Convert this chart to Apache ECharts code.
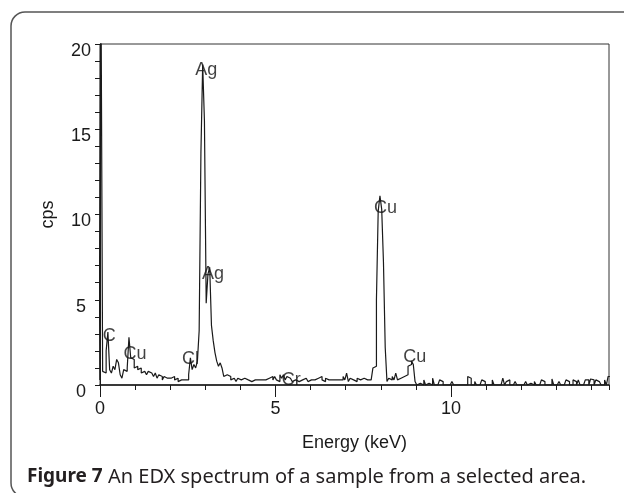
<!DOCTYPE html>
<html>
<head>
<meta charset="utf-8">
<script src="https://cdn.jsdelivr.net/npm/echarts@6/dist/echarts.min.js"></script>
<style>
  html, body { margin: 0; padding: 0; background: #fff; }
  #chart { width: 624px; height: 493px; }
</style>
</head>
<body>
<div id="chart"></div>
<script>
//-----------------------------------------------------------------------------------------
// data (0.05 keV channels, counts per second)
//-----------------------------------------------------------------------------------------
var binStart = 0;
var binWidth = 0.05;
var cps = [
  // 0.00 - 0.95
  0.3, 25, 0.8, 0.7, 2.0, 3.1, 0.9, 0.7, 1.1, 0.9,
  1.5, 1.3, 0.6, 0.4, 0.9, 0.8, 1.0, 2.8, 1.6, 1.5,
  // 1.00 - 1.95
  1.0, 1.1, 0.9, 1.0, 0.7, 0.8, 0.9, 0.6, 0.8, 0.7,
  0.8, 0.5, 0.7, 0.4, 0.6, 0.5, 0.3, 0.5, 0.4, 0.3,
  // 2.00 - 2.95
  0.4, 0.3, 0.5, 0.3, 0.4, 0.2, 0.3, 0.4, 0.3, 0.2,
  0.3, 0.6, 1.6, 0.9, 1.2, 1.0, 1.4, 3.2, 13.6, 18.8,
  // 3.00 - 3.95
  15.5, 4.8, 6.5, 6.9, 3.5, 2.6, 1.9, 1.4, 1.1, 1.3,
  1.0, 0.5, 0.6, 0.6, 0.5, 0.3, 0.4, 0.3, 0.2, 0.4,
  // 4.00 - 4.95
  0.3, 0.2, 0.4, 0.3, 0.3, 0.4, 0.2, 0.3, 0.3, 0.4,
  0.3, 0.2, 0.3, 0.4, 0.3, 0.2, 0.4, 0.3, 0.5, 0.3,
  // 5.00 - 5.95
  0.5, 0.3, 0.2, 0.6, 0.4, 0.6, 0.3, 0.5, 0.4, 0.3,
  0.2, 0.3, 0.4, 0.2, 0.3, 0.3, 0.2, 0.4, 0.3, 0.2,
  // 6.00 - 6.95
  0.3, 0.4, 0.3, 0.2, 0.4, 0.3, 0.5, 0.3, 0.2, 0.4,
  0.3, 0.2, 0.3, 0.4, 0.3, 0.2, 0.3, 0.4, 0.3, 0.5,
  // 7.00 - 7.95
  0.3, 0.7, 0.2, 0.4, 0.3, 0.3, 0.2, 0.4, 0.3, 0.3,
  0.4, 0.3, 0.3, 0.2, 0.3, 0.4, 1.0, 1.1, 5.0, 10.2,
  // 8.00 - 8.95
  11.1, 10.3, 7.2, 2.2, 0.2, 0.4, 0.3, 0.5, 0.3, 0.7,
  0.3, 0.4, 0.3, 0.5, 0.4, 0.6, 1.1, 1.2, 1.4, 1.2,
  // 9.00 - 9.95
  0.2, 0.0, 0.1, 0.0, 0.0, 0.3, 0.0, 0.1, 0.0, 0.0,
  0.4, 0.0, 0.0, 0.0, 0.3, 0.2, 0.0, 0.0, 0.0, 0.0,
  // 10.00 - 10.95
  0.0, 0.2, 0.0, 0.0, 0.0, 0.0, 0.0, 0.0, 0.1, 0.0,
  0.5, 0.4, 0.0, 0.0, 0.2, 0.0, 0.0, 0.0, 0.3, 0.2,
  // 11.00 - 11.95
  0.0, 0.0, 0.1, 0.0, 0.3, 0.0, 0.0, 0.0, 0.0, 0.1,
  0.4, 0.0, 0.2, 0.3, 0.0, 0.0, 0.0, 0.2, 0.0, 0.0,
  // 12.00 - 12.95
  0.0, 0.0, 0.0, 0.2, 0.0, 0.1, 0.2, 0.0, 0.2, 0.0,
  0.0, 0.0, 0.3, 0.2, 0.0, 0.0, 0.0, 0.0, 0.35, 0.0,
  // 13.00 - 13.95
  0.0, 0.0, 0.2, 0.0, 0.0, 0.0, 0.3, 0.2, 0.0, 0.0,
  0.3, 0.2, 0.0, 0.3, 0.0, 0.0, 0.0, 0.3, 0.3, 0.0,
  // 14.00 - 14.50
  0.35, 0.3, 0.0, 0.3, 0.2, 0.3, 0.0, 0.0, 0.3, 0.0,
  0.5
];

// element labels on the peaks
var peakNames = ['Ag', 'Ag', 'Cu', 'Cu', 'C', 'Cu', 'Cl', 'Cr'];
var peakX     = [3.03, 3.22, 8.13, 8.97, 0.26, 1.0, 2.58, 5.45];
var peakY     = [18.5, 6.5, 10.4, 1.64, 2.87, 1.82, 1.52, 0.28];

var xTicks = [0, 5, 10];
var yTicks = [0, 5, 10, 15, 20];

//-----------------------------------------------------------------------------------------
// chart
//-----------------------------------------------------------------------------------------
var fontAx = '"Liberation Sans", Arial, sans-serif';
var ink = '#1a1a1a';

// histogram outline: each channel is a flat segment one bin wide
var spectrum = [];
for (var i = 0; i < cps.length; i++) {
    var e = binStart + i * binWidth;
    spectrum.push([e - binWidth / 2, cps[i]]);
    spectrum.push([e + binWidth / 2, cps[i]]);
}
var peaks = [];
for (var j = 0; j < peakNames.length; j++) {
    peaks.push({ name: peakNames[j], value: [peakX[j], peakY[j]] });
}

var chart = echarts.init(document.getElementById('chart'));
var option = {
    animation: false,
    backgroundColor: '#fff',
    grid: {
        left: 100, right: 15, top: 44, bottom: 108,
        show: true, borderColor: '#333', borderWidth: 1, backgroundColor: 'transparent'
    },
    graphic: [{
        type: 'rect',
        shape: { x: 11, y: 12, width: 640, height: 485, r: 14 },
        style: { fill: 'none', stroke: '#555', lineWidth: 1.5 },
        silent: true
    }, {
        type: 'text',
        left: 27, top: 467,
        style: {
            text: '{b|Figure 7} An EDX spectrum of a sample from a selected area.',
            font: '20px "Noto Sans", sans-serif',
            fill: '#231f20',
            rich: {
                b: { fontWeight: 'bold', fontSize: 19, fontFamily: '"Noto Sans", sans-serif', fill: '#231f20' }
            }
        }
    }],
    xAxis: [{
        type: 'value',
        min: 0, max: 14.5, interval: 5,
        name: 'Energy (keV)',
        nameLocation: 'middle', nameGap: 49,
        nameTextStyle: { fontSize: 18, color: ink, fontFamily: fontAx },
        axisLine: { show: true, onZero: false, lineStyle: { color: ink, width: 1.5 } },
        axisTick: { show: true, length: 12, customValues: xTicks, lineStyle: { color: ink } },
        axisLabel: { fontSize: 18, color: ink, fontFamily: fontAx, margin: 15, customValues: xTicks },
        splitLine: { show: false }
    }, {
        // minor ticks every 1 keV
        type: 'value',
        min: 0, max: 14.5, interval: 1,
        position: 'bottom',
        axisLine: { show: false },
        axisTick: { show: true, length: 5, lineStyle: { color: ink } },
        axisLabel: { show: false },
        splitLine: { show: false }
    }],
    yAxis: {
        type: 'value',
        min: 0, max: 20, interval: 5,
        name: 'cps',
        nameLocation: 'middle', nameGap: 43,
        nameTextStyle: { fontSize: 18, color: ink, fontFamily: fontAx },
        axisLine: { show: true, onZero: false, lineStyle: { color: ink, width: 1 } },
        axisTick: { show: true, length: 5, lineStyle: { color: ink } },
        minorTick: { show: true, splitNumber: 5, length: 5, lineStyle: { color: ink } },
        axisLabel: { fontSize: 18, color: ink, fontFamily: fontAx, margin: 19, align: 'center',
                     verticalAlign: 'top', lineHeight: 14, customValues: yTicks },
        splitLine: { show: false },
        minorSplitLine: { show: false }
    },
    series: [{
        type: 'line',
        showSymbol: false,
        clip: true,
        lineStyle: { color: ink, width: 1.2 },
        data: spectrum
    }, {
        type: 'scatter',
        symbolSize: 1,
        itemStyle: { color: 'rgba(0,0,0,0)' },
        label: {
            show: true, position: 'inside',
            formatter: '{b}',
            fontSize: 18, color: '#111', fontFamily: fontAx
        },
        silent: true,
        data: peaks
    }]
};
chart.setOption(option);
</script>
</body>
</html>
